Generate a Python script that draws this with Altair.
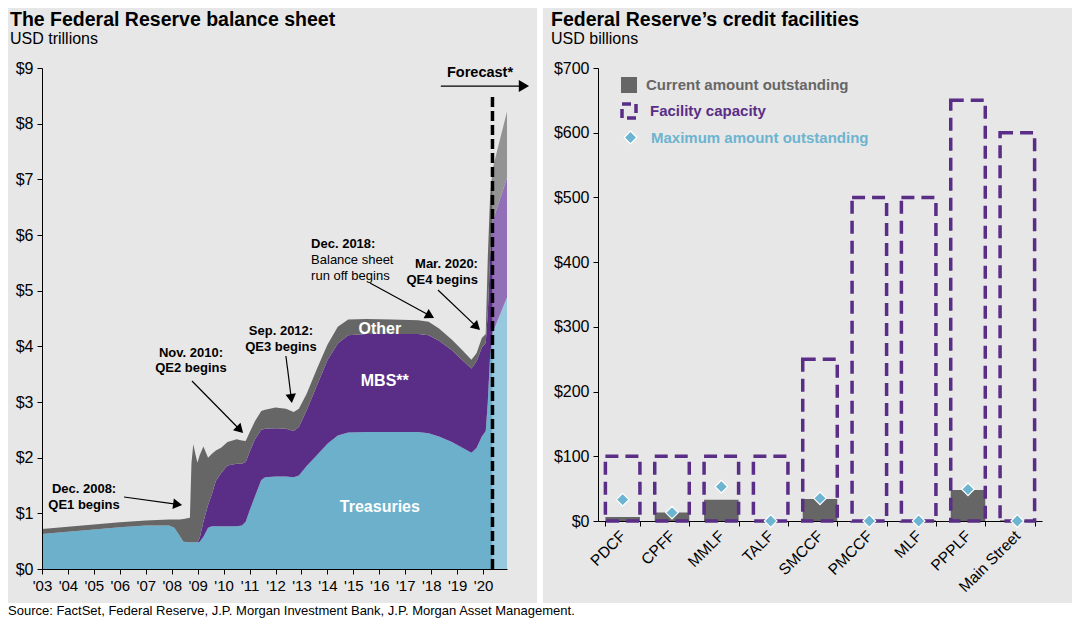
import math
import altair as alt
import pandas as pd

FONT = "Liberation Sans"
BG = "#e7e7e7"
BLUE, PURPLE, GRAY = "#6cb0cc", "#5a2d87", "#666666"
BLUE_F, PURPLE_F, GRAY_F = "#98c8dd", "#9270b8", "#939393"
DIAMOND = "#6cb4d0"

# ---------------- left chart data (USD trillions) ----------------
years = [2003.00, 2004.00, 2005.00, 2006.00, 2007.00, 2007.90, 2008.10, 2008.30, 2008.45, 2008.70,
         2008.76, 2008.83, 2008.92, 2008.99, 2009.08, 2009.22, 2009.40, 2009.55, 2009.70, 2009.90,
         2010.15, 2010.50, 2010.70, 2010.85, 2011.00, 2011.20, 2011.45, 2011.60, 2012.00, 2012.40,
         2012.70, 2012.90, 2013.20, 2013.60, 2014.00, 2014.40, 2014.80, 2015.50, 2016.50, 2017.50,
         2017.90, 2018.30, 2018.80, 2019.20, 2019.55, 2019.75, 2019.95, 2020.10, 2020.18, 2020.27,
         2020.37]
treasuries = [0.63, 0.67, 0.71, 0.75, 0.78, 0.78, 0.74, 0.60, 0.49, 0.48,
              0.48, 0.48, 0.48, 0.48, 0.49, 0.58, 0.74, 0.77, 0.77, 0.77,
              0.77, 0.77, 0.78, 0.85, 1.05, 1.30, 1.60, 1.65, 1.66, 1.66,
              1.65, 1.68, 1.85, 2.05, 2.25, 2.40, 2.45, 2.46, 2.46, 2.46,
              2.44, 2.38, 2.28, 2.18, 2.09, 2.18, 2.38, 2.48, 3.00, 3.85,
              4.25]
mbs = [0, 0, 0, 0, 0, 0, 0, 0, 0, 0,
       0, 0, 0, 0, 0.07, 0.27, 0.41, 0.58, 0.81, 0.95,
       1.09, 1.12, 1.11, 1.07, 1.05, 1.02, 0.90, 0.87, 0.87, 0.86,
       0.83, 0.87, 1.00, 1.25, 1.50, 1.65, 1.75, 1.76, 1.76, 1.76,
       1.76, 1.72, 1.65, 1.57, 1.51, 1.55, 1.60, 1.58, 1.60, 1.75,
       2.00]
other = [0.09, 0.09, 0.09, 0.09, 0.09, 0.11, 0.15, 0.29, 0.41, 0.44,
         1.42, 1.76, 1.57, 1.43, 1.49, 1.35, 0.85, 0.72, 0.55, 0.46,
         0.42, 0.44, 0.42, 0.38, 0.35, 0.33, 0.34, 0.34, 0.37, 0.36,
         0.34, 0.33, 0.30, 0.30, 0.28, 0.30, 0.28, 0.27, 0.26, 0.25,
         0.24, 0.22, 0.19, 0.18, 0.16, 0.15, 0.17, 0.16, 1.00, 1.10,
         0.95]

fc_years = [2020.37, 2020.92]
fc_treasuries = [4.25, 4.88]
fc_mbs = [2.00, 2.15]
fc_other = [0.95, 1.19]

x_ticks = list(range(2003, 2021))
y_ticks = list(range(0, 10))

series_names = ["Treasuries", "MBS", "Other", "Treasuries (forecast)", "MBS (forecast)", "Other (forecast)"]
series_colors = [BLUE, PURPLE, GRAY, BLUE_F, PURPLE_F, GRAY_F]

# annotations (data coordinates)
ann_text = ["Dec. 2008:", "QE1 begins", "Nov. 2010:", "QE2 begins", "Sep. 2012:", "QE3 begins",
            "Dec. 2018:", "Balance sheet", "run off begins", "Mar. 2020:", "QE4 begins"]
ann_year = [2004.62, 2004.62, 2008.74, 2008.74, 2012.21, 2012.21,
            2013.37, 2013.37, 2013.37, 2019.80, 2019.80]
ann_value = [1.365, 1.078, 3.817, 3.530, 4.203, 3.916,
             5.766, 5.479, 5.191, 5.407, 5.119]
ann_align = ["center", "center", "center", "center", "center", "center",
             "left", "left", "left", "right", "right"]
ann_weight = ["bold", "bold", "bold", "bold", "bold", "bold",
              "bold", "normal", "normal", "bold", "bold"]

area_label_text = ["Other", "MBS**", "Treasuries"]
area_label_year = [2016.02, 2016.21, 2016.02]
area_label_value = [4.23, 3.29, 1.02]

forecast_text = ["Forecast*"]
forecast_year = [2019.88]
forecast_value = [8.84]

arrow_x0 = [2006.16, 2008.78, 2012.40, 2015.64, 2018.26, 2018.37]
arrow_y0 = [1.293, 3.377, 3.826, 5.137, 5.012, 8.676]
arrow_x1 = [2008.40, 2010.75, 2012.63, 2018.11, 2019.88, 2021.77]
arrow_y1 = [1.150, 2.443, 2.982, 4.509, 4.293, 8.676]
arrow_head = [110, 110, 110, 110, 110, 140]

vline_year = [2020.36]
vline_top = [8.52]

# ---------------- right chart data (USD billions) ----------------
facilities = ["PDCF", "CPFF", "MMLF", "TALF", "SMCCF", "PMCCF", "MLF", "PPPLF", "Main Street"]
current = [6, 13, 33, 0, 34, 0, 1, 48, 1]
capacity = [100, 100, 100, 100, 250, 500, 500, 650, 600]
maximum = [33, 13, 53, 0, 35, 0, 0, 49, 0]
r_ticks = [0, 100, 200, 300, 400, 500, 600, 700]

SOURCE = "Source: FactSet, Federal Reserve, J.P. Morgan Investment Bank, J.P. Morgan Asset Management."

# ---------------- geometry ----------------
LW, LH = 465, 501
RW, RH = 444, 453
X_DOM = [2003, 2020.92]
PX_X = LW / (X_DOM[1] - X_DOM[0])
PX_Y = LH / 9.0

one = pd.DataFrame({"k": [0]})

# ---------------- left chart ----------------
rows = []
for i, yv in enumerate(years):
    rows.append({"year": yv, "series": "Treasuries", "v": treasuries[i], "ord": 0})
    rows.append({"year": yv, "series": "MBS", "v": mbs[i], "ord": 1})
    rows.append({"year": yv, "series": "Other", "v": other[i], "ord": 2})
hist = pd.DataFrame(rows)
rows = []
for i, yv in enumerate(fc_years):
    rows.append({"year": yv, "series": "Treasuries (forecast)", "v": fc_treasuries[i], "ord": 0})
    rows.append({"year": yv, "series": "MBS (forecast)", "v": fc_mbs[i], "ord": 1})
    rows.append({"year": yv, "series": "Other (forecast)", "v": fc_other[i], "ord": 2})
fc = pd.DataFrame(rows)

xscale = alt.Scale(domain=X_DOM, nice=False, zero=False)
yscale = alt.Scale(domain=[0, 9], nice=False)
xaxis = alt.Axis(values=x_ticks, format="d", labelExpr="\"'\" + substring(datum.label, 2)",
                 title=None, grid=False, tickSize=5, labelPadding=4, labelFontSize=15,
                 labelFont=FONT, domainColor="black", tickColor="black", labelColor="black",
                 zindex=1, labelFlush=False, labelOverlap=False)
yaxis = alt.Axis(values=y_ticks, labelExpr="'$' + datum.value", title=None, grid=False,
                 tickSize=5, labelPadding=4, labelFontSize=16, labelFont=FONT,
                 domainColor="black", tickColor="black", labelColor="black", zindex=1)


def LX(field):
    return alt.X(field, type="quantitative", scale=xscale, axis=xaxis)


def LY(field, **kw):
    return alt.Y(field, type="quantitative", scale=yscale, axis=yaxis, **kw)


color_enc = alt.Color("series:N", scale=alt.Scale(domain=series_names, range=series_colors), legend=None)

bounds_l = alt.Chart(one).mark_rect(opacity=0).encode(
    x=alt.value(-34), x2=alt.value(501), y=alt.value(-60), y2=alt.value(550))
gap_l = alt.Chart(one).mark_rect(color="white").encode(
    x=alt.value(495), x2=alt.value(501), y=alt.value(-60), y2=alt.value(550))
strip_l = alt.Chart(one).mark_rect(color="white").encode(
    x=alt.value(-34), x2=alt.value(501), y=alt.value(535), y2=alt.value(550))

area_h = alt.Chart(hist).mark_area(strokeWidth=0).encode(
    x=LX("year"), y=LY("v", stack="zero"), color=color_enc, order=alt.Order("ord:Q"))
area_f = alt.Chart(fc).mark_area(strokeWidth=0).encode(
    x=LX("year"), y=LY("v", stack="zero"), color=color_enc, order=alt.Order("ord:Q"))

vline = alt.Chart(pd.DataFrame({"year": vline_year, "y0": [0], "y1": vline_top})).mark_rule(
    color="black", strokeWidth=3.5, strokeDash=[10, 4]).encode(
    x=LX("year"), y=LY("y0"), y2="y1")

# arrows
arr_rows = []
for i in range(len(arrow_x0)):
    dx = (arrow_x1[i] - arrow_x0[i]) * PX_X
    dy = -(arrow_y1[i] - arrow_y0[i]) * PX_Y
    L = math.hypot(dx, dy)
    ux, uy = dx / L, dy / L
    ang = math.degrees(math.atan2(ux, -uy)) % 360
    h = math.sqrt(3) / 2 * math.sqrt(arrow_head[i]) / 2
    cx = arrow_x1[i] - h * ux / PX_X
    cy = arrow_y1[i] + h * uy / PX_Y
    arr_rows.append({"x0": arrow_x0[i], "y0": arrow_y0[i], "cx": cx, "cy": cy,
                     "ang": ang, "size": arrow_head[i]})
arr = pd.DataFrame(arr_rows)
arrow_lines = alt.Chart(arr).mark_rule(color="black", strokeWidth=1.2).encode(
    x=LX("x0"), y=LY("y0"), x2="cx", y2="cy")
arrow_heads = alt.Chart(arr).mark_point(shape="triangle-up", filled=True, color="black",
                                        opacity=1, strokeWidth=0).encode(
    x=LX("cx"), y=LY("cy"), angle=alt.Angle("ang:Q", scale=None),
    size=alt.Size("size:Q", scale=None))

ann = pd.DataFrame({"t": ann_text, "year": ann_year, "v": ann_value,
                    "align": ann_align, "weight": ann_weight})
ann_layers = []
for al in ["center", "left", "right"]:
    for wt in ["bold", "normal"]:
        sub = ann[(ann["align"] == al) & (ann["weight"] == wt)]
        if len(sub) == 0:
            continue
        ann_layers.append(alt.Chart(sub).mark_text(
            align=al, baseline="alphabetic", font=FONT, fontSize=13, fontWeight=wt, color="black").encode(
            x=LX("year"), y=LY("v"), text="t:N"))

area_labels = alt.Chart(pd.DataFrame({"t": area_label_text, "year": area_label_year, "v": area_label_value})).mark_text(
    align="center", baseline="alphabetic", font=FONT, fontSize=16, fontWeight="bold", color="white").encode(
    x=LX("year"), y=LY("v"), text="t:N")

fc_label = alt.Chart(pd.DataFrame({"t": forecast_text, "year": forecast_year, "v": forecast_value})).mark_text(
    align="center", baseline="alphabetic", font=FONT, fontSize=14.5, fontWeight="bold", color="black").encode(
    x=LX("year"), y=LY("v"), text="t:N")

title_l = alt.Chart(pd.DataFrame({"t": ["The Federal Reserve balance sheet"]})).mark_text(
    align="left", baseline="alphabetic", font=FONT, fontSize=19.5, fontWeight="bold", color="black").encode(
    x=alt.value(-32), y=alt.value(-42), text="t:N")
sub_l = alt.Chart(pd.DataFrame({"t": ["USD trillions"]})).mark_text(
    align="left", baseline="alphabetic", font=FONT, fontSize=16, color="black").encode(
    x=alt.value(-32), y=alt.value(-24.5), text="t:N")

left = alt.layer(bounds_l, gap_l, strip_l, area_h, area_f, vline, arrow_lines, arrow_heads,
                 *ann_layers, area_labels, fc_label, title_l, sub_l).properties(width=LW, height=LH)

# ---------------- right chart ----------------
rdf = pd.DataFrame({"facility": facilities, "current": current, "capacity": capacity, "maximum": maximum,
                    "s1": "Current amount outstanding", "s2": "Facility capacity",
                    "s3": "Maximum amount outstanding"})

rx_scale = alt.Scale(domain=facilities, paddingInner=0.3, paddingOuter=0.15)
rxaxis = alt.Axis(title=None, labelAngle=-45, labelAlign="right", labelBaseline="middle",
                  tickBand="extent", tickSize=5, labelPadding=7, labelFontSize=15.5, labelFont=FONT,
                  domainColor="black", tickColor="black", labelColor="black", grid=False)
ry_scale = alt.Scale(domain=[0, 700], nice=False)
ryaxis = alt.Axis(values=r_ticks, labelExpr="'$' + datum.value", title=None, grid=False,
                  tickSize=5, labelPadding=4, labelFontSize=16, labelFont=FONT,
                  domainColor="black", tickColor="black", labelColor="black")


def RX():
    return alt.X("facility:N", sort=facilities, scale=rx_scale, axis=rxaxis)


def RY(field):
    return alt.Y(field, type="quantitative", scale=ry_scale, axis=ryaxis)


leg_common = dict(orient="none", title=None, padding=0, labelFont=FONT, labelFontSize=15,
                  labelFontWeight="bold", labelLimit=400)

bounds_r = alt.Chart(one).mark_rect(opacity=0).encode(
    x=alt.value(-55), x2=alt.value(474), y=alt.value(-60), y2=alt.value(550))
strip_r = alt.Chart(one).mark_rect(color="white").encode(
    x=alt.value(-55), x2=alt.value(474), y=alt.value(535), y2=alt.value(550))

bars = alt.Chart(rdf).mark_bar().encode(
    x=RX(), y=RY("current"),
    color=alt.Color("s1:N", scale=alt.Scale(domain=["Current amount outstanding"], range=[GRAY]),
                    legend=alt.Legend(legendX=23, legendY=9, symbolType="square", symbolSize=256,
                                      symbolStrokeWidth=0, labelColor=GRAY, labelOffset=9, **leg_common)))
cap = alt.Chart(rdf).mark_bar(filled=False, strokeWidth=3.5, strokeDash=[13, 7]).encode(
    x=RX(), y=RY("capacity"),
    stroke=alt.Stroke("s2:N", scale=alt.Scale(domain=["Facility capacity"], range=[PURPLE]),
                      legend=alt.Legend(legendX=22, legendY=34, symbolType="square", symbolSize=196,
                                        symbolFillColor="transparent", symbolStrokeWidth=3.5,
                                        symbolDash=[9, 5], labelColor=PURPLE, labelOffset=12,
                                        **leg_common)))
pts = alt.Chart(rdf).mark_point(shape="diamond", filled=True, size=160, stroke="white",
                                strokeWidth=1.2, opacity=1).encode(
    x=RX(), y=RY("maximum"),
    fill=alt.Fill("s3:N", scale=alt.Scale(domain=["Maximum amount outstanding"], range=[DIAMOND]),
                  legend=alt.Legend(legendX=25, legendY=62, symbolType="diamond", symbolSize=160,
                                    symbolStrokeColor="white", symbolStrokeWidth=1.2,
                                    labelColor=DIAMOND, labelOffset=13, **leg_common)))

title_r = alt.Chart(pd.DataFrame({"t": ["Federal Reserve\u2019s credit facilities"]})).mark_text(
    align="left", baseline="alphabetic", font=FONT, fontSize=19.5, fontWeight="bold", color="black").encode(
    x=alt.value(-47), y=alt.value(-42), text="t:N")
sub_r = alt.Chart(pd.DataFrame({"t": ["USD billions"]})).mark_text(
    align="left", baseline="alphabetic", font=FONT, fontSize=16, color="black").encode(
    x=alt.value(-47), y=alt.value(-24.5), text="t:N")

right = alt.layer(bounds_r, strip_r, bars, cap, pts, title_r, sub_r).properties(width=RW, height=RH)

chart = alt.hconcat(left, right, spacing=0).resolve_scale(
    color="independent", fill="independent", stroke="independent", x="independent", y="independent"
).resolve_legend(color="independent", fill="independent", stroke="independent").properties(
    background=BG, padding=0,
    title=alt.TitleParams(SOURCE, orient="bottom", anchor="start", fontSize=13, font=FONT,
                          fontWeight="normal", color="black", offset=-13, frame="bounds"),
).configure_view(stroke=None)

chart.save("out.html", embed_options={"renderer": "svg", "actions": False})
